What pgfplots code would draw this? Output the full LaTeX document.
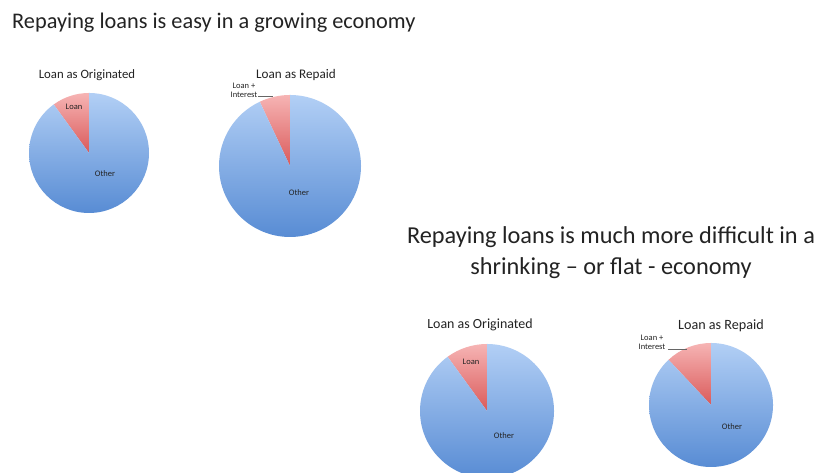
\documentclass[border=0pt]{standalone}
\usepackage{pgfplots}
\pgfplotsset{compat=1.18}
\usepackage{pgfplotstable}
\usepackage{fontspec}
\setmainfont{Carlito}
\definecolor{pieblueT}{RGB}{178,207,245}
\definecolor{pieblueB}{RGB}{88,140,212}
\definecolor{pieredT}{RGB}{246,180,180}
\definecolor{pieredB}{RGB}{218,90,90}
\definecolor{txt}{RGB}{35,35,35}

\pgfplotstableread{
pie loan other
1 10 90
2 7 93
3 10 90
4 12 88
}\piedata

\newcommand\getangle[2]{%
  \pgfplotstablegetelem{#1}{loan}\of\piedata
  \pgfmathsetmacro#2{90+3.6*\pgfplotsretval}}

\newcommand\drawpie[2]{% #1 end angle of loan slice, #2 radius
  \shade[top color=pieredT, bottom color=pieredB] (axis cs:0,0) -- (axis cs:0,1)
     arc[start angle=90, end angle=#1, radius=#2] -- cycle;
  \shade[top color=pieblueT, bottom color=pieblueB] (axis cs:0,0) -- (axis cs:0,1)
     arc[start angle=90, end angle=#1-360, radius=#2] -- cycle;
}

\pgfplotsset{pieaxis/.style={hide axis, clip=false, anchor=center,
  xmin=-1, xmax=1, ymin=-1, ymax=1, scale only axis}}

\begin{document}
\begin{tikzpicture}[x=1bp,y=1bp]
\path[use as bounding box] (0,0) rectangle (826,473);
\clip (0,0) rectangle (826,473);
\fill[white] (0,0) rectangle (826,473);
\getangle{0}{\angA}
\getangle{1}{\angB}
\getangle{2}{\angC}
\getangle{3}{\angD}

\begin{axis}[pieaxis, at={(89bp,320bp)}, x=60bp, y=60bp]
  \drawpie{\angA}{60bp}
\end{axis}
\begin{axis}[pieaxis, at={(290bp,307bp)}, x=71bp, y=71bp]
  \drawpie{\angB}{71bp}
\end{axis}
\begin{axis}[pieaxis, at={(487bp,62bp)}, x=67bp, y=67bp]
  \drawpie{\angC}{67bp}
\end{axis}
\begin{axis}[pieaxis, at={(711bp,68bp)}, x=62bp, y=62bp]
  \drawpie{\angD}{62bp}
\end{axis}

% titles
\node[anchor=west, text=txt, font=\fontsize{22.4}{26}\selectfont, inner sep=0pt] at (12,450)
  {Repaying loans is easy in a growing economy};
\node[align=center, text=txt, font=\fontsize{24.4}{31}\selectfont, inner sep=0pt] at (611,220)
  {Repaying loans is much more difficult in a\\shrinking -- or flat - economy};

\node[text=txt, font=\fontsize{12.8}{14}\selectfont, inner sep=0pt] at (87,398) {Loan as Originated};
\node[text=txt, font=\fontsize{13.2}{14}\selectfont, inner sep=0pt] at (296,398) {Loan as Repaid};
\node[text=txt, font=\fontsize{14}{15}\selectfont, inner sep=0pt] at (480,148) {Loan as Originated};
\node[text=txt, font=\fontsize{14.2}{15}\selectfont, inner sep=0pt] at (721,147) {Loan as Repaid};

% slice labels
\tikzset{sl/.style={text=txt, font=\fontsize{8.5}{10}\selectfont, inner sep=0pt, align=center}}
\node[sl] at (74,366) {Loan};
\node[sl] at (105,299) {Other};
\node[sl] at (244,383) {Loan +\\[-1pt]Interest};
\draw[black!60, line width=0.5pt] (258,377) -- (273,377);
\node[sl] at (299,280) {Other};
\node[sl] at (471,111) {Loan};
\node[sl] at (504,37) {Other};
\node[sl] at (652,131) {Loan +\\[-1pt]Interest};
\draw[black!60, line width=0.5pt] (668,124) -- (687,124);
\node[sl] at (732,46) {Other};
\end{tikzpicture}
\end{document}
